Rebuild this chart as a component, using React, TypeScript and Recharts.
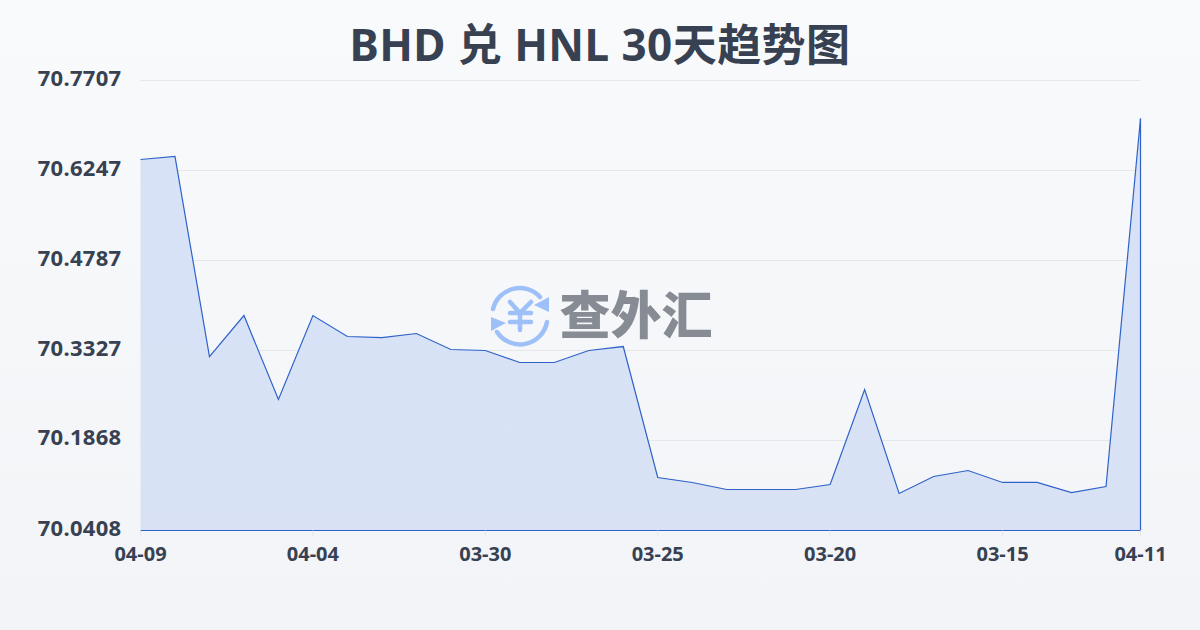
import React from "react";
import { AreaChart, Area, XAxis, YAxis, CartesianGrid, ReferenceLine } from "recharts";

const categories = ["04-09","04-08","04-07","04-06","04-05","04-04","04-03","04-02","04-01","03-31","03-30","03-29","03-28","03-27","03-26","03-25","03-24","03-23","03-22","03-21","03-20","03-19","03-18","03-17","03-16","03-15","03-14","03-13","03-12","04-11"];
const rates = [70.6426,70.6474,70.3230,70.3895,70.2533,70.3895,70.3555,70.3538,70.3603,70.3344,70.3328,70.3133,70.3133,70.3328,70.3392,70.1268,70.1187,70.1073,70.1073,70.1073,70.1154,70.2695,70.1008,70.1284,70.1381,70.1187,70.1187,70.1024,70.1122,70.7091];
const xTicks = ["04-09","04-04","03-30","03-25","03-20","03-15","04-11"];
const yTicks = [70.0408,70.1868,70.3327,70.4787,70.6247,70.7707];
const yMin = 70.0408;
const yMax = 70.7707;
const data = categories.map((date, i) => ({ date, rate: rates[i] }));

const LINE = "#2f62c9";
const TEXT = "#374151";
const FONT = "'Noto Sans', 'Noto Sans CJK SC', sans-serif";

const YTick = (p: any) => (
  <text x={p.x} y={p.y - 4} textAnchor="end" dominantBaseline="central" fontSize={22} fontWeight={700} letterSpacing={0.3} fontFamily={FONT} fill={TEXT}>
    {p.payload.value.toFixed(4)}
  </text>
);

const Logo = () => (
  <svg width={1200} height={630} style={{ position: "absolute", left: 0, top: 0, pointerEvents: "none" }}>
    <g fill="none" stroke="#9dc0f8" strokeWidth={4.5} strokeLinecap="round">
      <path d="M493 309 A27.5 27.5 0 0 1 540 297" />
      <path d="M547 322 A27.5 27.5 0 0 1 497 332" />
      <g strokeWidth={4.5}>
        <path d="M510 302 L520 313 L531 302" />
        <path d="M510 313 H531" />
        <path d="M510 322 H531" />
        <path d="M520 313 V330" />
      </g>
    </g>
    <path d="M549 312 L549 297 L534 305 Z" fill="#9dc0f8" />
    <path d="M491 317 L491 331 L506 323 Z" fill="#9dc0f8" />
    <text x={636} y={334} textAnchor="middle" fontSize={51} fontWeight={900} fontFamily="'Noto Sans CJK SC'" fill="#878b93">查外汇</text>
  </svg>
);

export default function App() {
  return (
    <div style={{ position: "absolute", left: 0, top: 0, width: 1200, height: 630, overflow: "hidden", background: "linear-gradient(180deg, #f8fafc 0%, #f2f4f7 100%)" }}>
      <div style={{ position: "absolute", left: 0, top: 12, width: 1200, textAlign: "center", fontFamily: FONT, fontSize: 44, lineHeight: "64px", fontWeight: 700, letterSpacing: 0.45, color: TEXT }}>
        BHD 兑 HNL 30天趋势图
      </div>
      <AreaChart width={1200} height={630} data={data} margin={{ top: 80.5, right: 59.5, bottom: 0, left: 0 }} style={{ position: "absolute", left: 0, top: 0 }}>
        <defs>
          <linearGradient id="areaFill" x1="0" y1="0" x2="0" y2="1">
            <stop offset="0%" stopColor="#d7e2f7" />
            <stop offset="100%" stopColor="#d9e2f5" />
          </linearGradient>
        </defs>
        <CartesianGrid vertical={false} stroke="#e5e7eb" strokeWidth={1} />
        <XAxis dataKey="date" ticks={xTicks} interval={0} height={99.5} axisLine={false} tickLine={{ stroke: "#e5e7eb" }} tickSize={6} tickMargin={10} tick={{ fontSize: 20, fontWeight: 700, fontFamily: FONT, fill: TEXT }} />
        <YAxis type="number" domain={[yMin, yMax]} ticks={yTicks} width={140.5} axisLine={false} tickLine={false} tickMargin={13} tick={<YTick />} />
        <Area type="linear" dataKey="rate" baseValue={yMin} stroke={LINE} strokeWidth={1.2} fill="url(#areaFill)" fillOpacity={1} isAnimationActive={false} dot={false} activeDot={false} />
        <ReferenceLine segment={[{ x: categories[0], y: yMin }, { x: categories[0], y: rates[0] }]} stroke={LINE} strokeWidth={1.2} />
        <ReferenceLine segment={[{ x: categories[29], y: yMin }, { x: categories[29], y: rates[29] }]} stroke={LINE} strokeWidth={1.2} />
        <ReferenceLine y={yMin} stroke={LINE} strokeWidth={1.2} />
      </AreaChart>
      <Logo />
    </div>
  );
}
